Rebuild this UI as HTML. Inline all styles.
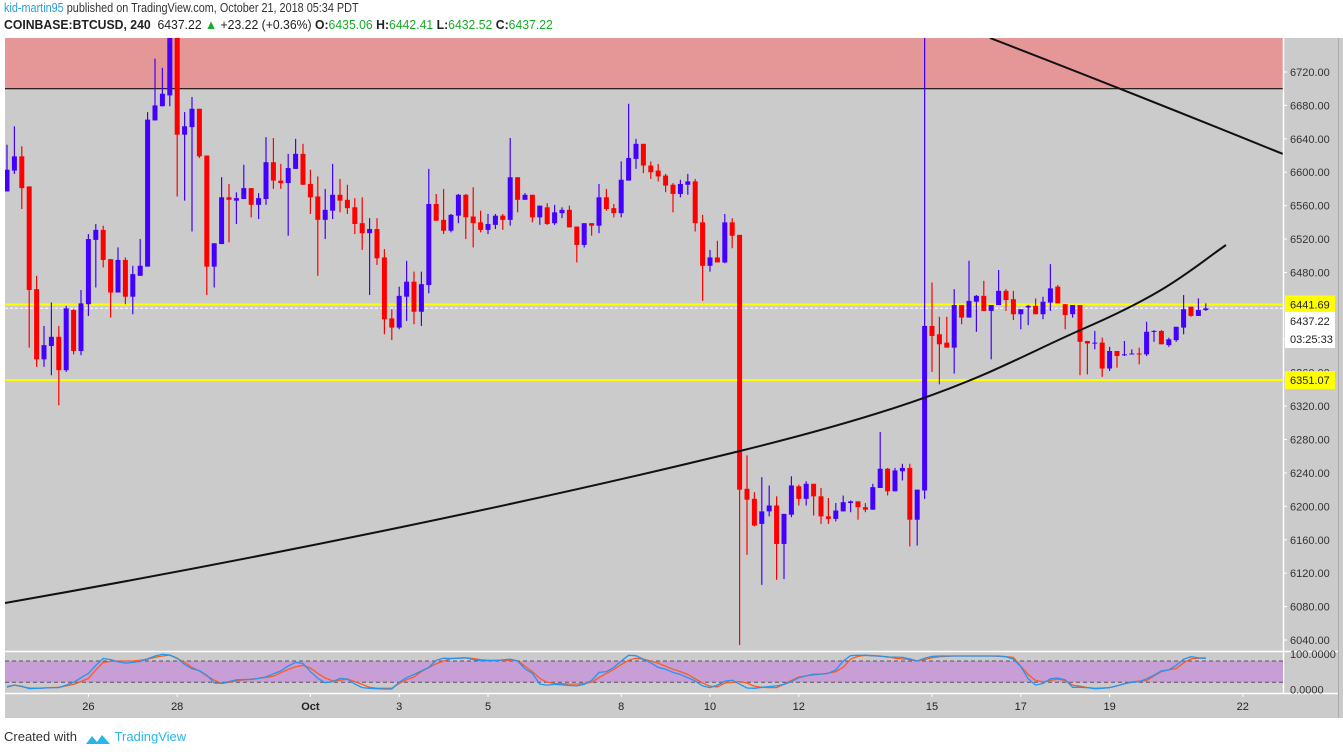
<!DOCTYPE html>
<html><head><meta charset="utf-8">
<style>
body{margin:0;width:1343px;height:754px;background:#fff;overflow:hidden;font-family:"Liberation Sans",sans-serif;}
#hdr1{position:absolute;left:4px;top:0px;font-size:13px;color:#333;white-space:nowrap;transform:scaleX(0.835);transform-origin:0 0;}
#hdr2{position:absolute;left:4px;top:17px;font-size:13px;color:#222;white-space:nowrap;transform:scaleX(0.94);transform-origin:0 0;}
.g{color:#1aaa2a}
#foot{position:absolute;left:4px;top:729px;font-size:13px;color:#333;}
svg{position:absolute;left:0;top:0}
</style></head><body>
<div id="hdr1"><span style="color:#2a9fd6">kid-martin95</span> published on TradingView.com, October 21, 2018 05:34 PDT</div>
<div id="hdr2"><b>COINBASE:BTCUSD, 240</b>&nbsp; 6437.22 <span class="g">▲</span> +23.22 (+0.36%) <b>O:</b><span class="g">6435.06</span> <b>H:</b><span class="g">6442.41</span> <b>L:</b><span class="g">6432.52</span> <b>C:</b><span class="g">6437.22</span></div>
<svg id="chart" width="1343" height="754"></svg>
<div id="foot">Created with <span style="display:inline-block;width:26px;height:12px;margin:0 4px;vertical-align:middle;position:relative">
<svg width="26" height="14" viewBox="0 0 26 14" style="position:static"><path d="M1 12 L7 4 L12 10 L17 3 L25 12 Z" fill="#29b6e8"/></svg></span><span style="color:#29b6e8">TradingView</span></div>
<script>
const opens=[6577,6602,6619,6583,6460,6376,6392,6403,6363,6435,6386,6442,6519,6531,6496,6456,6495,6451,6476,6487,6662,6679,6692,6790,6645,6654,6676,6620,6487,6514,6570,6566,6568,6581,6561,6568,6612,6590,6587,6604,6622,6586,6571,6543,6554,6573,6567,6558,6539,6527,6532,6498,6425,6414,6451,6469,6433,6465,6562,6543,6530,6548,6573,6547,6540,6531,6537,6548,6543,6594,6567,6573,6546,6558,6539,6551,6555,6535,6513,6539,6536,6570,6557,6551,6590,6616,6634,6608,6602,6596,6585,6574,6585,6589,6540,6488,6498,6492,6540,6525,6221,6209,6179,6194,6201,6155,6190,6224,6209,6227,6212,6188,6185,6194,6204,6206,6199,6196,6222,6245,6218,6242,6246,6184,6219,6416,6406,6396,6390,6441,6426,6445,6452,6434,6441,6458,6448,6430,6438,6440,6430,6444,6463,6442,6430,6441,6398,6395,6396,6365,6386,6381,6382,6383,6382,6409,6410,6393,6399,6414,6439,6428,6435];
const highs=[6633,6655,6631,6583,6476,6416,6444,6416,6440,6436,6459,6526,6538,6536,6496,6510,6498,6488,6520,6672,6736,6725,6810,6800,6672,6690,6676,6620,6515,6594,6586,6576,6609,6581,6575,6642,6641,6610,6622,6640,6634,6603,6595,6580,6610,6592,6585,6569,6570,6545,6545,6508,6436,6463,6494,6481,6481,6604,6574,6580,6550,6574,6574,6582,6554,6550,6550,6550,6641,6594,6575,6573,6560,6563,6561,6558,6560,6535,6539,6539,6586,6580,6562,6613,6682,6640,6634,6613,6610,6598,6587,6591,6598,6592,6549,6507,6518,6550,6545,6525,6261,6217,6235,6225,6212,6191,6236,6226,6230,6227,6222,6210,6204,6213,6207,6206,6204,6227,6289,6246,6246,6251,6251,6220,6800,6468,6427,6427,6460,6441,6494,6453,6470,6441,6483,6460,6458,6436,6441,6449,6451,6490,6465,6442,6441,6441,6398,6410,6402,6391,6386,6398,6388,6390,6421,6411,6411,6402,6415,6453,6439,6449,6443];
const lows=[6577,6598,6556,6390,6367,6367,6357,6321,6361,6382,6381,6428,6462,6486,6426,6456,6442,6430,6476,6487,6662,6679,6679,6571,6566,6529,6617,6453,6462,6514,6516,6538,6568,6546,6544,6561,6580,6580,6524,6604,6585,6550,6476,6520,6544,6552,6550,6526,6507,6453,6489,6406,6399,6412,6422,6418,6416,6455,6542,6526,6528,6539,6520,6510,6528,6526,6532,6531,6536,6552,6567,6540,6537,6537,6537,6545,6534,6492,6510,6524,6527,6554,6546,6546,6590,6604,6599,6592,6589,6576,6552,6570,6573,6529,6446,6481,6492,6491,6509,6034,6142,6176,6106,6188,6112,6113,6187,6201,6201,6189,6179,6179,6182,6194,6193,6184,6193,6196,6222,6213,6218,6231,6152,6153,6209,6361,6346,6390,6359,6418,6426,6409,6434,6376,6441,6434,6423,6412,6417,6430,6424,6434,6443,6412,6426,6357,6358,6388,6355,6362,6366,6380,6382,6370,6380,6397,6394,6391,6397,6406,6427,6428,6434];
const closes=[6603,6619,6581,6459,6376,6393,6403,6363,6437,6386,6443,6520,6531,6495,6456,6495,6451,6478,6488,6663,6680,6694,6790,6645,6655,6676,6619,6487,6515,6570,6567,6569,6581,6561,6569,6612,6590,6587,6605,6622,6585,6570,6543,6555,6573,6566,6557,6538,6527,6532,6497,6424,6414,6452,6469,6433,6466,6562,6542,6530,6549,6573,6546,6539,6531,6538,6548,6543,6594,6567,6573,6546,6560,6538,6552,6555,6534,6513,6539,6536,6570,6556,6551,6591,6617,6634,6608,6600,6595,6584,6574,6586,6589,6539,6488,6498,6492,6540,6524,6220,6208,6177,6194,6201,6155,6191,6225,6209,6227,6212,6188,6185,6195,6205,6206,6199,6196,6223,6245,6218,6243,6246,6184,6220,6416,6404,6394,6390,6441,6426,6446,6452,6434,6441,6458,6447,6430,6436,6440,6430,6445,6461,6443,6429,6441,6397,6395,6396,6365,6386,6380,6382,6383,6382.6,6409,6410,6394,6400,6415,6436,6428,6435,6437];
const stochK=[8,12,9,2,3,4,5,5,12,20,33,45,68,87,84,78,74,76,79,86,94,99,97,88,70,58,53,40,18,17,22,27,28,28,31,35,44,52,66,76,73,50,31,19,22,31,29,15,5,3,2,1,1,20,33,42,52,62,82,88,87,88,89,84,81,81,81,83,85,80,58,45,15,12,14,13,11,10,14,25,48,50,62,80,96,95,85,75,62,57,48,42,33,24,10,5,12,23,26,15,4,3,6,8,10,14,22,33,38,43,43,45,55,80,95,96,96,95,94,91,91,90,86,80,88,93,94,94,94,94,94,94,94,94,94,92,85,64,30,12,17,30,32,27,6,6,5,2,3,5,10,16,20,22,30,40,52,55,68,85,92,89,87];
const stochD=[6,12,8,4,3,4,5,6,10,14,22,31,55,76,79,80,80,80,82,85,90,94,97,87,76,62,52,38,26,17,20,24,27,29,31,34,37,47,56,64,68,60,45,32,24,26,29,22,14,6,3,3,3,17,27,35,50,62,72,80,87,88,89,87,84,82,82,82,82,81,65,50,31,20,17,16,15,15,17,20,33,45,56,70,82,88,85,80,74,65,57,50,42,30,18,9,7,18,20,22,18,9,6,5,5,15,25,35,38,41,43,46,50,62,85,93,96,95,93,92,88,86,84,80,84,89,92,93,94,94,94,94,94,94,93,92,90,65,42,25,21,25,29,25,12,9,5,3,4,5,10,16,21,23,25,38,50,55,59,75,86,88,89];
const priceTicks=[6720,6680,6640,6600,6560,6520,6480,6440,6400,6360,6320,6280,6240,6200,6160,6120,6080,6040];
const dateLabels=["26","28","Oct","3","5","8","10","12","15","17","19","22"];
const dateIdx=[11,23,41,53,65,83,95,107,125,137,149,167];
const supportLevels=[6441.69,6351.07];
const lastPrice=6437.22;

const NS="http://www.w3.org/2000/svg";
const svg=document.getElementById('chart');
function el(tag,attrs,parent){const e=document.createElementNS(NS,tag);for(const k in attrs)e.setAttribute(k,attrs[k]);(parent||svg).appendChild(e);return e;}
const X0=5,X1=1283,YT=38,YB=651;
const xs=i=>7+7.4*i;
const ys=p=>72+(6720-p)*0.8353;
const ysto=v=>689.4-v*0.355;

const bg=el('rect',{x:X0,y:YT,width:1343-X0,height:718-YT,fill:'#cbcbcb'});


const defs=el('defs',{});
const cp=el('clipPath',{id:'mainclip'},defs);el('rect',{x:X0,y:YT,width:X1-X0,height:YB-YT},cp);
const main=el('g',{'clip-path':'url(#mainclip)'});



const zone=el('rect',{x:X0,y:YT,width:X1-X0,height:ys(6700)-YT,fill:'#e59696'},main);


const zl=el('line',{x1:X0,x2:X1,y1:ys(6700),y2:ys(6700),stroke:'#111','stroke-width':1.2},main);



supportLevels.forEach(function(p,k){
  const l=el('line',{x1:X0,x2:X1,y1:ys(p),y2:ys(p),stroke:'#ffff00','stroke-width':2},main);
  
  
});
const lp=el('line',{x1:X0,x2:X1,y1:ys(lastPrice),y2:ys(lastPrice),stroke:'#fff','stroke-width':1,'stroke-dasharray':'3,2'},main);



for(let i=0;i<opens.length;i++){
  const up=closes[i]>=opens[i];const col=up?'#4400ff':'#ff0000';
  const g=el('g',{},main);
  
  
  const x=xs(i);
  el('line',{x1:x,x2:x,y1:ys(highs[i]),y2:ys(lows[i]),stroke:col,'stroke-width':1.2},g);
  const t=ys(Math.max(opens[i],closes[i])),b=ys(Math.min(opens[i],closes[i]));
  el('rect',{x:x-2.5,y:t,width:5,height:Math.max(1,b-t),fill:col},g);
}
const c1=el('path',{d:'M5 603 C 250 560, 520 505, 740 451 S 1000 365, 1085 328 S 1190 270, 1226 245',fill:'none',stroke:'#111','stroke-width':2},main);


const c2=el('path',{d:'M990 38 Q 1130 92, 1283 154',fill:'none',stroke:'#111','stroke-width':2},main);



el('line',{x1:X1+0.5,x2:X1+0.5,y1:YT,y2:693,stroke:'#fff','stroke-width':1.5});
el('line',{x1:X0,x2:1338,y1:651.5,y2:651.5,stroke:'#fff','stroke-width':1.5});
el('line',{x1:X0,x2:1338,y1:693.5,y2:693.5,stroke:'#fff','stroke-width':1.5});
el('line',{x1:1338.5,x2:1338.5,y1:YT,y2:718,stroke:'#aaa','stroke-width':1});

priceTicks.forEach(function(p){
  const t=el('text',{x:1290,y:ys(p)+4,'font-size':11,fill:'#333'});
  t.textContent=p.toFixed(2);
  
  
  el('line',{x1:X1,x2:X1+4,y1:ys(p),y2:ys(p),stroke:'#fff'});
});
function tag(y,txt,fill,name){
  const r=el('rect',{x:X1+2,y:y-9,width:50,height:18,fill:fill});
  
  
  const t=el('text',{x:1290,y:y+4,'font-size':11,fill:'#222'});t.textContent=txt;
  
  
}
tag(ys(supportLevels[0]),supportLevels[0].toFixed(2),'#ffff00','level-1-price-tag');
tag(ys(supportLevels[1]),supportLevels[1].toFixed(2),'#ffff00','level-2-price-tag');
tag(321,lastPrice.toFixed(2),'#fff','last-price-tag');
tag(339,'03:25:33','#fff','countdown-tag');

const sp=el('g',{});


const band=el('rect',{x:X0,y:ysto(80),width:X1-X0,height:ysto(20)-ysto(80),fill:'#c89ed6'},sp);


[80,20].forEach(function(v){el('line',{x1:X0,x2:X1,y1:ysto(v),y2:ysto(v),stroke:'#5e4e66','stroke-dasharray':'4,3'},sp);});
function spath(arr){return arr.map((v,i)=>(i?'L':'M')+xs(i).toFixed(1)+' '+ysto(v).toFixed(1)).join(' ');}
const dl=el('path',{d:spath(stochD),fill:'none',stroke:'#ff5a1f','stroke-width':1.3},sp);


const kl=el('path',{d:spath(stochK),fill:'none',stroke:'#2196f3','stroke-width':1.3},sp);


[[100,'100.0000'],[0,'0.0000']].forEach(function(a){
  const t=el('text',{x:1290,y:ysto(a[0])+4,'font-size':11,fill:'#333'});t.textContent=a[1];
  
  
});

dateLabels.forEach(function(s,k){
  const x=xs(dateIdx[k]);
  el('line',{x1:x,x2:x,y1:693,y2:697,stroke:'#fff'});
  const t=el('text',{x:x,y:710,'font-size':11,fill:'#222','text-anchor':'middle','font-weight':s==='Oct'?'bold':'normal'});
  t.textContent=s;
  
  
});
</script>
</body></html>
